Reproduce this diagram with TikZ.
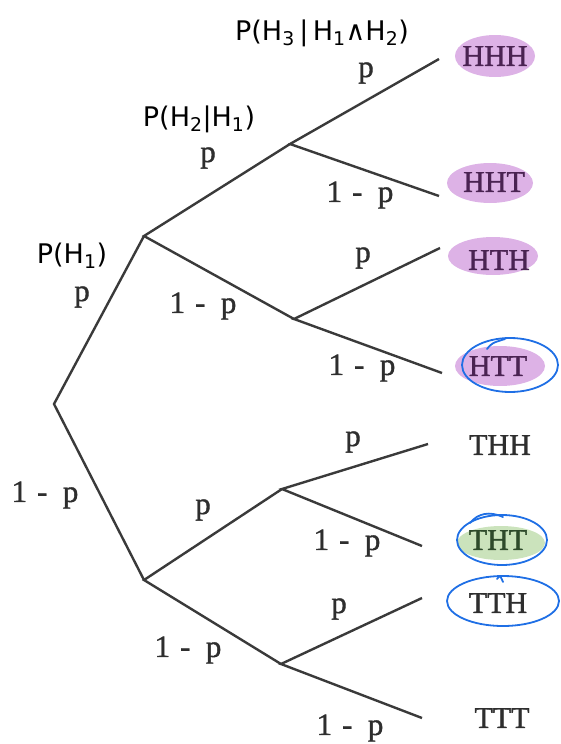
\documentclass[tikz,border=0pt]{standalone}
\usepackage{fontspec}
\setmainfont{Liberation Serif}
\newfontfamily\heavyserif[FakeBold=1.2]{Liberation Serif}
\newfontfamily\handfont{DejaVu Sans}
\definecolor{br}{HTML}{3A3A3A}
\definecolor{txt}{HTML}{2E2E2E}
\definecolor{hlp}{HTML}{DDB2E6}
\definecolor{hlg}{HTML}{CBE3BC}
\definecolor{pen}{HTML}{1F6FE5}
\definecolor{leafp}{HTML}{4A2352}
\definecolor{leafg}{HTML}{2E4A2B}
\tikzset{
  branch/.style={draw=br, line width=2.4pt},
  lbl/.style={font=\heavyserif\fontsize{31}{31}\selectfont, text=txt, inner sep=0pt},
  leaf/.style={font=\heavyserif\fontsize{30}{30}\selectfont, text=txt, inner sep=0pt},
  leafpur/.style={leaf, text=leafp},
  leafgrn/.style={leaf, text=leafg},
  ink/.style={draw=pen, line width=1.8pt, line cap=round},
  handtxt/.style={font=\handfont\fontsize{27}{27}\selectfont, text=black, inner sep=0pt},
}
\newcommand{\omp}{1\hspace{0.32em}-\hspace{0.5em}p}
\begin{document}
\begin{tikzpicture}[x=1pt,y=-1pt]
\useasboundingbox (0,0) rectangle (560,744);
% highlights
\fill[hlp] (495,56) ellipse [x radius=40pt, y radius=21pt];
\fill[hlp] (490,183) ellipse [x radius=43pt, y radius=20pt];
\fill[hlp] (493,256) ellipse [x radius=45pt, y radius=19pt];
\fill[hlp] (500,366) ellipse [x radius=45pt, y radius=20pt];
\fill[hlg] (501,543) ellipse [x radius=44pt, y radius=17pt];
% branch points
\coordinate (R) at (54,404);
\coordinate (H) at (144,236);
\coordinate (T) at (144,580);
\coordinate (HH) at (290,144);
\coordinate (HT) at (294,319);
\coordinate (TH) at (282,489);
\coordinate (TT) at (281,664);
\coordinate (e1) at (439,59);
\coordinate (e2) at (439,196);
\coordinate (e3) at (440,248);
\coordinate (e4) at (442,373);
\coordinate (e5) at (428,444);
\coordinate (e6) at (422,546);
\coordinate (e7) at (422,598);
\coordinate (e8) at (422,718);
% branches
\draw[branch] (H) -- (R) -- (T);
\draw[branch] (HH) -- (H) -- (HT);
\draw[branch] (TH) -- (T) -- (TT);
\draw[branch] (e1) -- (HH) -- (e2);
\draw[branch] (e3) -- (HT) -- (e4);
\draw[branch] (e5) -- (TH) -- (e6);
\draw[branch] (e7) -- (TT) -- (e8);
% edge labels
\node[lbl] (l1) at (82,297) {p};
\node[lbl] (l2) at (45,495) {\omp};
\node[lbl] (l3) at (208,158) {p};
\node[lbl] (l4) at (203,306) {\omp};
\node[lbl] (l5) at (203,510) {p};
\node[lbl] (l6) at (188,650) {\omp};
\node[lbl] (l7) at (366,73) {p};
\node[lbl] (l8) at (360,195) {\omp};
\node[lbl] (l9) at (363,258) {p};
\node[lbl] (l10) at (362,368) {\omp};
\node[lbl] (l11) at (353,442) {p};
\node[lbl] (l12) at (347,543) {\omp};
\node[lbl] (l13) at (339,609) {p};
\node[lbl] (l14) at (350,728) {\omp};
% leaves
\node[leafpur] (HHH) at (495,56) {HHH};
\node[leafpur] (HHT) at (494,182) {HHT};
\node[leafpur] (HTH) at (499,260) {HTH};
\node[leafpur] (HTT) at (498,366) {HTT};
\node[leaf] (THH) at (500,445) {THH};
\node[leafgrn] (THT) at (498,540) {THT};
\node[leaf] (TTH) at (498,603) {TTH};
\node[leaf] (TTT) at (502,718) {TTT};
% blue pen circles
\draw[ink] (510,365) ellipse [x radius=48pt, y radius=27pt];
\draw[ink] (487,349) .. controls (492,343) .. (505,339);
\draw[ink] (502,540) ellipse [x radius=45pt, y radius=25pt];
\draw[ink] (470,523) .. controls (478,513) and (490,511) .. (503,517);
\draw[ink] (503,601) ellipse [x radius=56pt, y radius=25pt];
\draw[ink] (497,579) .. controls (500,575) .. (503,582);
% handwritten annotations
\node[handtxt] (a1) at (72,256) {P(H\textsubscript{1})};
\node[handtxt] (a2) at (199,119) {P(H\textsubscript{2}|H\textsubscript{1})};
\node[handtxt] (a3) at (322,33) {P(H\textsubscript{3}\,|\,H\textsubscript{1}∧H\textsubscript{2})};
\end{tikzpicture}
\end{document}
